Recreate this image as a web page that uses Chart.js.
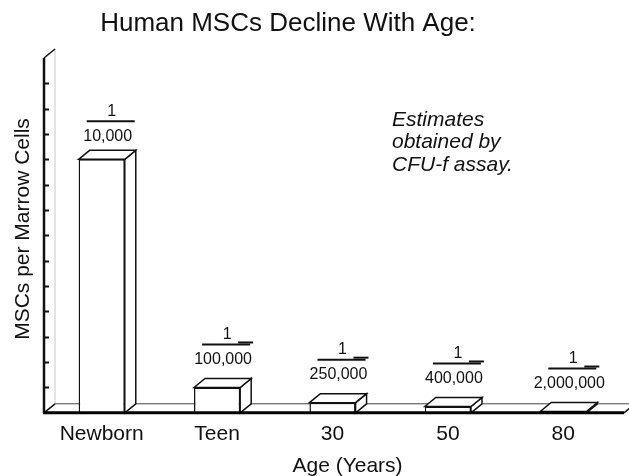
<!DOCTYPE html>
<html>
<head>
<meta charset="utf-8">
<script src="https://cdn.jsdelivr.net/npm/chart.js@4/dist/chart.umd.min.js"></script>
<style>
html, body { margin: 0; padding: 0; background: #fff; }
#wrap { width: 629px; height: 476px; }
</style>
</head>
<body>
<div id="wrap"><canvas id="mscChart"></canvas></div>
<script>
const ages = ['Newborn', 'Teen', '30', '50', '80'];
// MSCs per million marrow cells (1 in 10,000 = 100 per million ...)
const mscPerMillion = [100, 10, 4, 2.5, 0.5];
const denominators = ['10,000', '100,000', '250,000', '400,000', '2,000,000'];
const yMax = 140;
const yStep = 10;
const noteLines = ['Estimates', 'obtained by', 'CFU-f assay.'];

const ink = '#111';
const face = '"Liberation Sans", Arial, Helvetica, sans-serif';
const DX = 11, DY = 9;

function seg(ctx, x1, y1, x2, y2) {
    ctx.beginPath();
    ctx.moveTo(x1, y1);
    ctx.lineTo(x2, y2);
    ctx.stroke();
}

const depthPlugin = {
    id: 'depth3d',
    beforeDatasetsDraw(chart) {
        const { ctx, chartArea: a, scales: { y } } = chart;
        const base = y.getPixelForValue(0);
        const top = y.getPixelForValue(yMax);
        ctx.save();
        // back wall edge
        ctx.strokeStyle = '#c8c8c8';
        ctx.lineWidth = 1;
        seg(ctx, a.left + DX, base - DY, a.left + DX, top - DY);
        // floor back edge
        ctx.strokeStyle = '#444';
        seg(ctx, a.left + DX, base - DY, a.right + 3 + DX, base - DY);
        ctx.strokeStyle = ink;
        ctx.lineWidth = 1.5;
        seg(ctx, a.right + 3, base, a.right + 3 + DX, base - DY);
        seg(ctx, a.left, base, a.left + DX, base - DY);
        seg(ctx, a.left, top, a.left + DX, top - DY);
        // y axis + inner ticks
        ctx.lineWidth = 2.5;
        seg(ctx, a.left, top, a.left, base);
        ctx.lineWidth = 2;
        y.ticks.forEach(t => {
            if (t.value <= 0 || t.value >= yMax) return;
            const py = Math.round(y.getPixelForValue(t.value)) + 0.5;
            seg(ctx, a.left, py, a.left + 5, py);
        });
        ctx.restore();
    },
    afterDatasetsDraw(chart) {
        const { ctx, chartArea: a, scales: { y } } = chart;
        const base = y.getPixelForValue(0);
        const meta = chart.getDatasetMeta(0);
        ctx.save();
        ctx.strokeStyle = ink;
        ctx.lineWidth = 1.5;
        ctx.fillStyle = '#fff';
        meta.data.forEach((bar, i) => {
            const { x, y: top, width } = bar.getProps(['x', 'y', 'width'], true);
            const l = x - width / 2, r = x + width / 2;
            // side face
            ctx.beginPath();
            ctx.moveTo(r, top);
            ctx.lineTo(r + DX, top - DY);
            ctx.lineTo(r + DX, base - DY);
            ctx.lineTo(r, base);
            ctx.closePath();
            ctx.fill();
            ctx.stroke();
            // top face
            ctx.beginPath();
            ctx.moveTo(l, top);
            ctx.lineTo(l + DX, top - DY);
            ctx.lineTo(r + DX, top - DY);
            ctx.lineTo(r, top);
            ctx.closePath();
            ctx.fill();
            ctx.stroke();

            // fraction label
            const cy = top - (i === 0 ? 23 : 28);
            const lineY = cy - 15;
            const lx = x + 9;
            ctx.fillStyle = ink;
            ctx.font = '16px ' + face;
            ctx.textAlign = 'center';
            ctx.textBaseline = 'middle';
            ctx.fillText(denominators[i], x + 6, cy);
            ctx.fillText('1', x + 10, lineY - 10);
            ctx.lineWidth = 2;
            seg(ctx, lx - 24, lineY, lx + 24, lineY);
            if (i > 0) seg(ctx, lx + 12, lineY - 2, lx + 27, lineY - 2);
            ctx.lineWidth = 1.5;
            ctx.fillStyle = '#fff';
        });
        // front floor edge
        ctx.strokeStyle = '#000';
        ctx.lineWidth = 3;
        seg(ctx, a.left - 1, base, a.right + 3, base);
        ctx.restore();
    },
    afterDraw(chart) {
        const { ctx, chartArea: a } = chart;
        ctx.save();
        ctx.fillStyle = ink;
        ctx.textAlign = 'center';
        ctx.textBaseline = 'middle';
        ctx.font = '26px ' + face;
        ctx.fillText('Human MSCs Decline With Age:', 288, 24);
        ctx.font = '21px ' + face;
        ctx.fillText('Age (Years)', (a.left + a.right) / 2 + 15, 466);
        ctx.save();
        ctx.translate(23, 229);
        ctx.rotate(-Math.PI / 2);
        ctx.fillText('MSCs per Marrow Cells', 0, 0);
        ctx.restore();
        ctx.font = 'italic 21px ' + face;
        ctx.textAlign = 'left';
        noteLines.forEach((t, k) => ctx.fillText(t, 392, 120 + k * 22.5));
        ctx.restore();
    }
};

new Chart(document.getElementById('mscChart'), {
    type: 'bar',
    data: {
        labels: ages,
        datasets: [{
            data: mscPerMillion,
            backgroundColor: '#fff',
            borderColor: ink,
            borderWidth: 1.5,
            barPercentage: 0.4,
            categoryPercentage: 1
        }]
    },
    options: {
        responsive: true,
        maintainAspectRatio: false,
        animation: false,
        layout: {
            padding: { left: 44, right: 8, top: 58, bottom: 20 }
        },
        plugins: {
            legend: { display: false },
            tooltip: { enabled: false }
        },
        scales: {
            x: {
                grid: { display: false, drawTicks: false },
                border: { display: false },
                ticks: {
                    color: ink,
                    padding: 9,
                    font: { family: face, size: 21 }
                }
            },
            y: {
                display: false,
                min: 0,
                max: yMax,
                ticks: { stepSize: yStep }
            }
        }
    },
    plugins: [depthPlugin]
});
</script>
</body>
</html>
